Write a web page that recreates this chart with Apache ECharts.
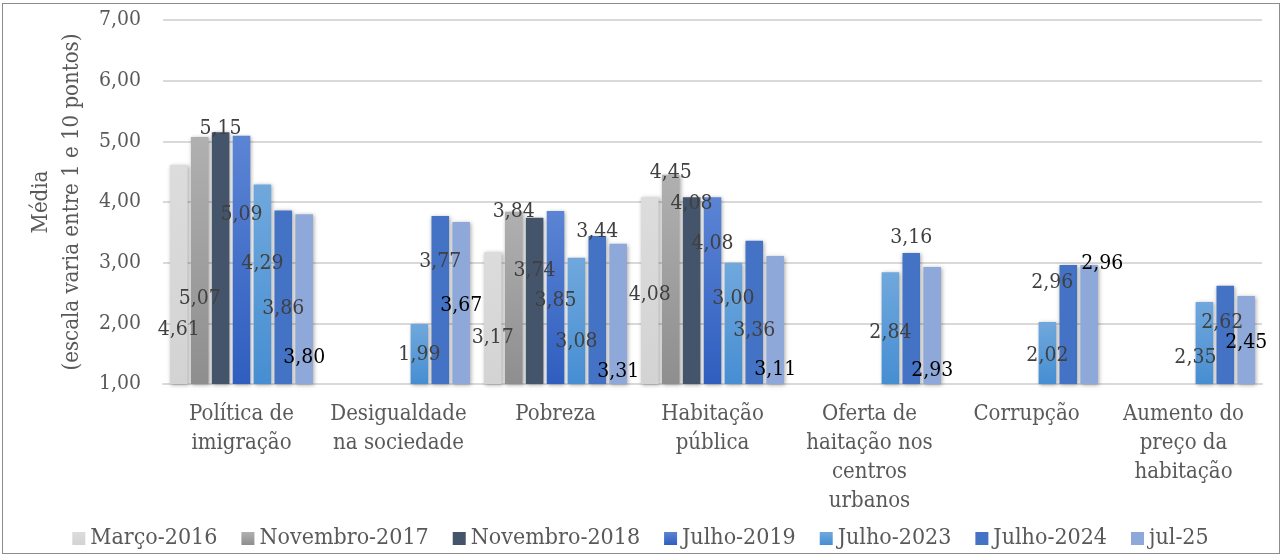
<!DOCTYPE html>
<html>
<head>
<meta charset="utf-8">
<script src="https://cdn.jsdelivr.net/npm/echarts@6/dist/echarts.min.js"></script>
<style>
  html, body { margin: 0; padding: 0; background: #fff; }
  #frame { position: absolute; left: 2px; top: 3px; width: 1276px; height: 549px; border: 1px solid #8c8c8c; }
  #chart { position: absolute; left: -3px; top: -4px; width: 1281px; height: 555px; }
</style>
</head>
<body>
<div id="frame"><div id="chart"></div></div>
<script>
const categories = ['Política de\nimigração', 'Desigualdade\nna sociedade', 'Pobreza', 'Habitação\npública',
    'Oferta de\nhaitação nos\ncentros\nurbanos', 'Corrupção', 'Aumento do\npreço da\nhabitação'];
const seriesNames = ['Março-2016', 'Novembro-2017', 'Novembro-2018', 'Julho-2019', 'Julho-2023', 'Julho-2024', 'jul-25'];
const marco2016 = [4.61, null, 3.17, 4.08, null, null, null];
const novembro2017 = [5.07, null, 3.84, 4.45, null, null, null];
const novembro2018 = [5.15, null, 3.74, 4.08, null, null, null];
const julho2019 = [5.09, null, 3.85, 4.08, null, null, null];
const julho2023 = [4.29, 1.99, 3.08, 3.00, 2.84, 2.02, 2.35];
const julho2024 = [3.86, 3.77, 3.44, 3.36, 3.16, 2.96, 2.62];
const jul25 = [3.80, 3.67, 3.31, 3.11, 2.93, 2.96, 2.45];
const yTicks = [1, 2, 3, 4, 5, 6, 7];

// where each data label sits: px below the bar top, and a sideways nudge
const labelDy = [
    [165, 0, 85, 97, 0, 0, 0],
    [161, 0, 0, -2, 0, 0, 0],
    [-4, 0, 53, 6, 0, 0, 0],
    [79, 0, 89, 46, 0, 0, 0],
    [79, 31, 84, 36, 60, 33, 55],
    [98, 46, -4, 90, -15, 17, 37],
    [143, 84, 128, 114, 104, -2, 47]
];
const labelDx = [
    [0, 0, 0, 0, 0, 0, 0],
    [0, 0, 0, 0, 0, 0, 0],
    [0, 0, 0, 0, 0, 0, 0],
    [0, 0, 0, 0, 0, 0, 0],
    [0, 0, 0, 0, 0, 0, -9],
    [0, 0, 0, 0, 0, -16, -3],
    [0, 0, 0, 0, 0, 13, 0]
];

const FONT = "'DejaVu Serif Condensed', 'DejaVu Serif', serif";
const grad = (top, bottom) => new echarts.graphic.LinearGradient(0, 0, 0, 1, [
    {offset: 0, color: top}, {offset: 1, color: bottom}
]);
const colors = [
    grad('#dcdcdc', '#d3d3d3'),
    grad('#b0b0b0', '#8e8e8e'),
    '#44546a',
    grad('#5b84d4', '#2f5ebf'),
    grad('#70a8dd', '#468ed2'),
    '#4472c4',
    '#8fa8da'
];
const fmt = (v) => v.toFixed(2).replace('.', ',');
const allValues = [marco2016, novembro2017, novembro2018, julho2019, julho2023, julho2024, jul25];

const series = allValues.map((vals, si) => ({
    name: seriesNames[si],
    type: 'bar',
    barGap: '19%',
    barCategoryGap: '9%',
    itemStyle: {
        color: colors[si],
        shadowBlur: 4,
        shadowColor: 'rgba(0,0,0,0.35)',
        shadowOffsetX: 1,
        shadowOffsetY: 1
    },
    data: vals.map((v, ci) => ({
        value: v,
        label: {
            show: v !== null,
            position: ['50%', labelDy[si][ci]],
            offset: [labelDx[si][ci], 0],
            align: 'center',
            verticalAlign: 'middle',
            formatter: (p) => fmt(p.value),
            color: si === 6 ? '#000000' : '#404040',
            fontFamily: FONT,
            fontSize: 21
        }
    }))
}));

const option = {
    animation: false,
    color: colors,
    textStyle: {fontFamily: FONT},
    grid: {left: 163, right: 19, top: 20, bottom: 171},
    legend: {
        bottom: 0,
        left: 'center',
        itemWidth: 13,
        itemHeight: 13,
        itemGap: 24,
        icon: 'rect',
        textStyle: {color: '#595959', fontSize: 23, fontFamily: FONT, padding: [0, 0, 0, 0]},
        data: seriesNames
    },
    xAxis: {
        type: 'category',
        data: categories,
        axisLine: {lineStyle: {color: '#d9d9d9', width: 2}},
        axisTick: {show: false},
        axisLabel: {
            color: '#595959',
            fontSize: 22,
            fontFamily: FONT,
            lineHeight: 29,
            margin: 16,
            interval: 0
        }
    },
    yAxis: {
        type: 'value',
        min: yTicks[0],
        max: yTicks[yTicks.length - 1],
        interval: 1,
        name: 'Média\n(escala varia entre 1 e 10 pontos)',
        nameLocation: 'middle',
        nameGap: 69,
        nameRotate: 90,
        nameTextStyle: {color: '#595959', fontSize: 22, fontFamily: FONT, lineHeight: 31},
        axisLine: {show: false},
        axisTick: {show: false},
        axisLabel: {
            color: '#595959',
            fontSize: 21,
            fontFamily: FONT,
            margin: 22,
            formatter: (v) => fmt(v)
        },
        splitLine: {lineStyle: {color: '#d9d9d9', width: 2}}
    },
    series: series
};

const chart = echarts.init(document.getElementById('chart'));
chart.setOption(option);
</script>
</body>
</html>
